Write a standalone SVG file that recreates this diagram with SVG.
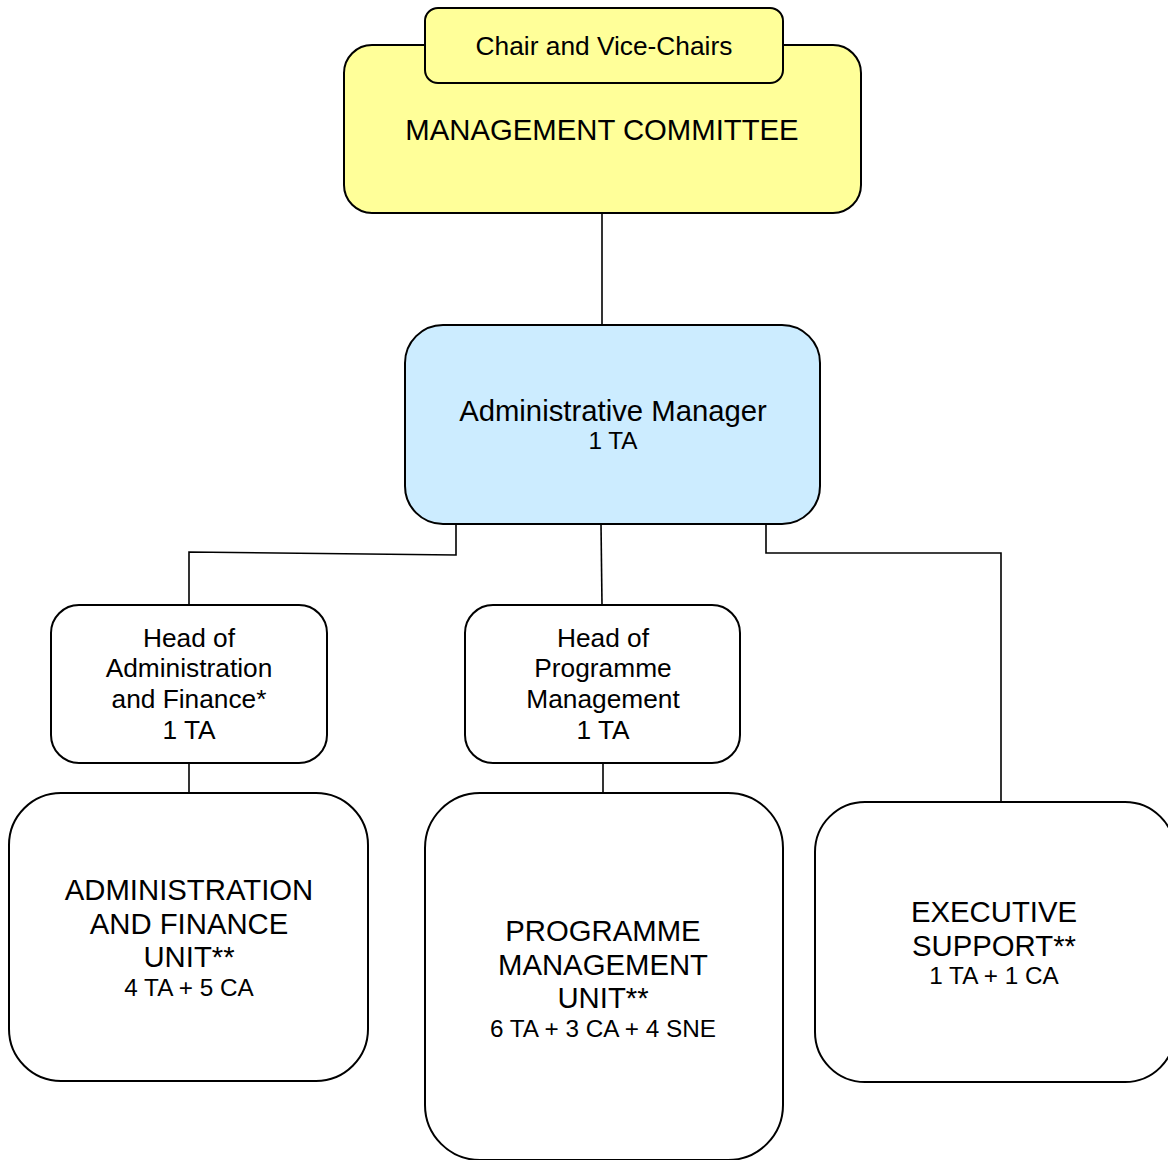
<svg xmlns="http://www.w3.org/2000/svg" width="1168" height="1160" viewBox="0 0 1168 1160">
<style>
.box{stroke:#000;stroke-width:2}
.w{fill:#fff}
.c{fill:none;stroke:#000;stroke-width:1.6}
text{font-family:"Liberation Sans",Arial,sans-serif;fill:#000;text-anchor:middle}
.t24{font-size:26.3px}
.t28{font-size:29.3px}
.t22{font-size:24.3px}
</style>
<rect width="1168" height="1160" fill="#fff"/>
<g id="connectors">
<path class="c" d="M602,213 V326"/>
<path class="c" d="M456,524 V555 L189,552 V605"/>
<path class="c" d="M601,524 L602,605"/>
<path class="c" d="M766,524 V553 H1001 V802"/>
<path class="c" d="M189,763 V793"/>
<path class="c" d="M603,763 V793"/>
</g>
<g id="management-committee">
<rect class="box" x="344" y="45" width="517" height="168" rx="28" fill="#FFFF99"/>
<text class="t28" x="602" y="140">MANAGEMENT COMMITTEE</text>
</g>
<g id="chair">
<rect class="box" x="425" y="8" width="358" height="75" rx="13" fill="#FFFF99"/>
<text class="t24" x="604" y="55">Chair and Vice-Chairs</text>
</g>
<g id="admin-manager">
<rect class="box" x="405" y="325" width="415" height="199" rx="38" fill="#CCECFF"/>
<text class="t28" x="613" y="421">Administrative Manager</text>
<text class="t22" x="613" y="449">1 TA</text>
</g>
<g id="head-admin">
<rect class="box w" x="51" y="605" width="276" height="158" rx="28"/>
<text class="t24" x="189" y="647">Head of</text>
<text class="t24" x="189" y="677">Administration</text>
<text class="t24" x="189" y="708">and Finance*</text>
<text class="t24" x="189" y="739">1 TA</text>
</g>
<g id="head-programme">
<rect class="box w" x="465" y="605" width="275" height="158" rx="28"/>
<text class="t24" x="603" y="647">Head of</text>
<text class="t24" x="603" y="677">Programme</text>
<text class="t24" x="603" y="708">Management</text>
<text class="t24" x="603" y="739">1 TA</text>
</g>
<g id="admin-unit">
<rect class="box w" x="9" y="793" width="359" height="288" rx="52"/>
<text class="t28" x="189" y="900">ADMINISTRATION</text>
<text class="t28" x="189" y="934">AND FINANCE</text>
<text class="t28" x="189" y="967">UNIT**</text>
<text class="t22" x="189" y="996">4 TA + 5 CA</text>
</g>
<g id="programme-unit">
<rect class="box w" x="425" y="793" width="358" height="367" rx="55"/>
<text class="t28" x="603" y="941">PROGRAMME</text>
<text class="t28" x="603" y="975">MANAGEMENT</text>
<text class="t28" x="603" y="1008">UNIT**</text>
<text class="t22" x="603" y="1037">6 TA + 3 CA + 4 SNE</text>
</g>
<g id="executive-support">
<rect class="box w" x="815" y="802" width="360" height="280" rx="50"/>
<text class="t28" x="994" y="922">EXECUTIVE</text>
<text class="t28" x="994" y="956">SUPPORT**</text>
<text class="t22" x="994" y="984">1 TA + 1 CA</text>
</g>
</svg>
